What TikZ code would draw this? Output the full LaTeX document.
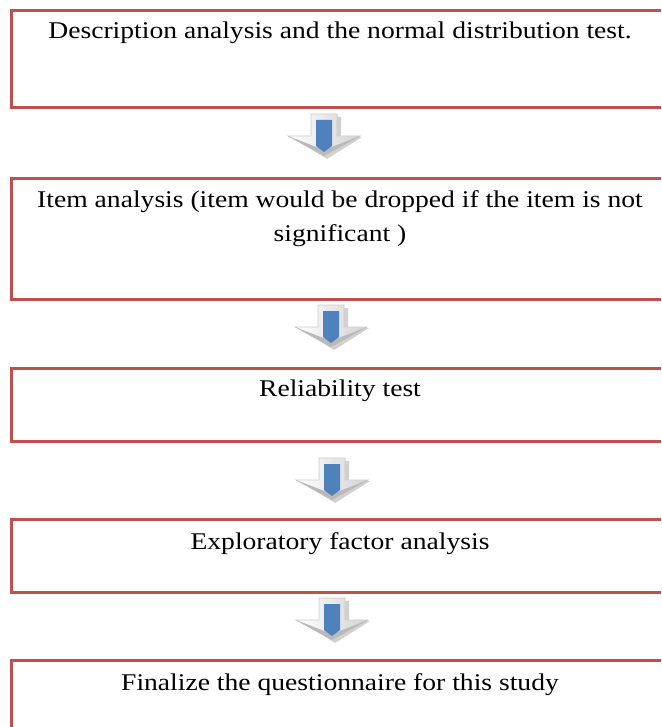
\documentclass[tikz,border=0pt]{standalone}
\usepackage{fontspec}
\setmainfont{Liberation Serif}[FakeStretch=1.15]
\usetikzlibrary{shadows}
\definecolor{boxred}{RGB}{192,80,77}
\definecolor{arrowblue}{RGB}{79,129,189}
\tikzset{
  stepbox/.style={draw=boxred, line width=3pt, fill=white, anchor=north west,
    inner sep=0pt, minimum width=668pt},
  steptext/.style={anchor=north, inner sep=0pt, align=center,
    font=\fontsize{24}{34}\selectfont},
}
% block arrow: outer white bevelled arrow with an inner blue pointer
\newcommand{\flowarrow}[3]{% name, centre x, top y
  \begin{scope}[shift={(#2,#3)}]
    \fill[gray!45, opacity=0.8] (-11,3) -- (17,3) -- (17,23) -- (38,23) -- (3,45) -- (-32,23) -- (-11,23) -- cycle;
    \shade[left color=white, right color=gray!35, draw=gray!40, line width=0.6pt]
      (-13,0) -- (13,0) -- (13,22) -- (36,22) -- (0,42) -- (-36,22) -- (-13,22) -- cycle;
    \fill[gray!55] (-36,22) -- (0,42) -- (36,22) -- (0,36) -- cycle;
    \fill[arrowblue] (-8,6) -- (8,6) -- (8,32) -- (0,38) -- (-8,32) -- cycle;
    \coordinate (#1) at (0,0);
  \end{scope}}
\begin{document}
\begin{tikzpicture}[x=1pt, y=-1pt]
  \clip (0,0) rectangle (661,727);
  \fill[white] (0,0) rectangle (661,727);

  \node[stepbox, minimum height=97pt] (b1) at (10,9) {};
  \node[steptext] (t1) at (340,22) {Description analysis and the normal distribution test.};

  \node[stepbox, minimum height=121pt] (b2) at (10,177) {};
  \node[steptext] (t2) at (340,190) {Item analysis (item would be dropped if the item is not\\significant )};

  \node[stepbox, minimum height=73pt] (b3) at (10,367) {};
  \node[steptext] (t3) at (340,380) {Reliability test};

  \node[stepbox, minimum height=73pt] (b4) at (10,518) {};
  \node[steptext] (t4) at (340,532) {Exploratory factor analysis};

  \node[stepbox, minimum height=90pt] (b5) at (10,659) {};
  \node[steptext] (t5) at (340,673) {Finalize the questionnaire for this study};

  \flowarrow{a1}{324}{114}
  \flowarrow{a2}{331}{305}
  \flowarrow{a3}{332}{458}
  \flowarrow{a4}{332}{598}
\end{tikzpicture}
\end{document}
